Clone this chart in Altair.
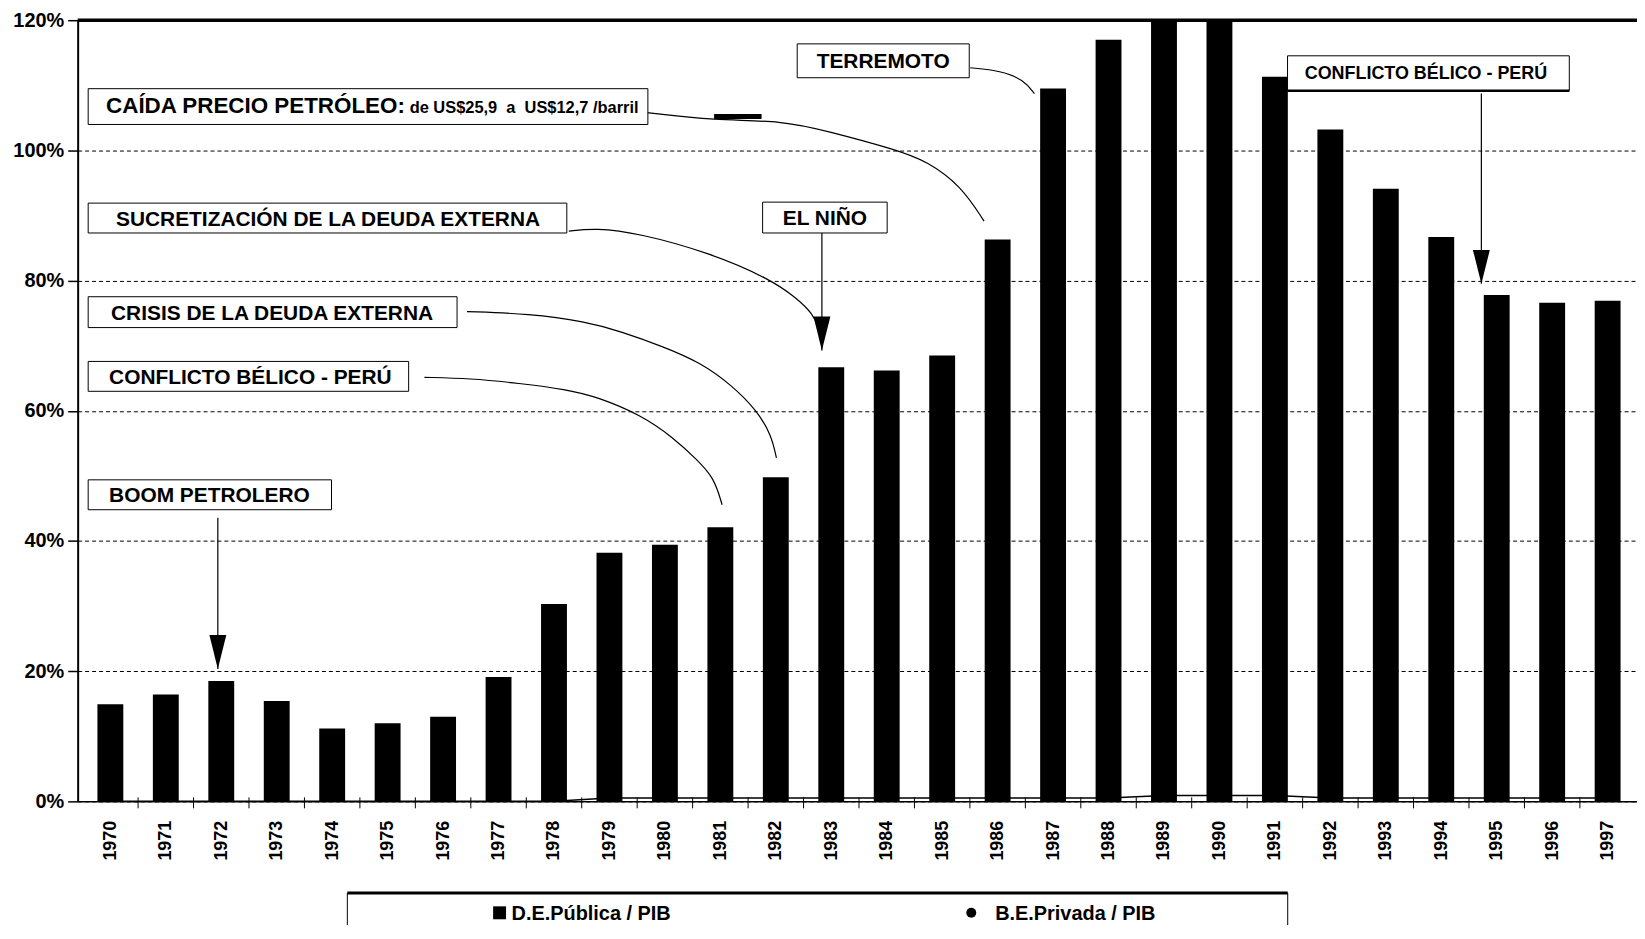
import altair as alt
import pandas as pd

# ---------------- data ----------------
years = list(range(1970, 1998))
de_publica = [14.9, 16.4, 18.5, 15.4, 11.2, 12.0, 13.0, 19.1, 30.3, 38.2,
              39.4, 42.1, 49.8, 66.7, 66.2, 68.5, 86.3, 109.5, 117.0, 125.0,
              125.0, 111.3, 103.2, 94.1, 86.7, 77.8, 76.6, 76.9]
be_privada = [0, 0, 0, 0, 0, 0, 0, 0, 0, 0.5,
              0.5, 0.5, 0.5, 0.5, 0.5, 0.5, 0.5, 0.5, 0.5, 0.9,
              0.9, 0.9, 0.5, 0.5, 0.5, 0.5, 0.5, 0.5]
y_ticks = [0, 20, 40, 60, 80, 100, 120]
tick_bounds = [y + 0.5 for y in years[:-1]]
series_names = ["D.E.Pública / PIB", "B.E.Privada / PIB"]

# ---------------- annotations (data units: year, %) ----------------
box_x0 = [1969.60, 1982.386, 1991.228, 1969.60, 1981.762, 1969.60, 1969.60, 1969.60]
box_x1 = [1979.693, 1985.488, 1996.309, 1978.231, 1984.008, 1976.252, 1975.379, 1973.988]
box_y0 = [103.98, 111.16, 109.17, 87.31, 87.31, 72.78, 62.99, 44.80]
box_y1 = [109.48, 116.36, 114.53, 91.90, 92.05, 77.52, 67.58, 49.39]

big_labels = ["SUCRETIZACIÓN DE LA DEUDA EXTERNA",
              "CRISIS DE LA DEUDA EXTERNA", "CONFLICTO BÉLICO - PERÚ", "BOOM PETROLERO"]
big_x = [1970.102, 1970.012, 1969.977, 1969.977]
big_y = [88.38, 74.01, 64.14, 45.95]

caida_label = ["CAÍDA PRECIO PETRÓLEO:"]
caida_x = [1969.923]
caida_y = [105.81]

center_labels = ["TERREMOTO", "EL NIÑO"]
center_x = [1983.936, 1982.885]
center_y = [112.61, 88.61]

small_label = ["de US$25,9\u00a0\u00a0a\u00a0\u00a0US$12,7 /barril"]
small_x = [1975.397]
small_y = [105.81]

right_label = ["CONFLICTO BÉLICO - PERÚ"]
right_x = [1993.724]
right_y = [110.98]

curve_caida_x = [1979.675, 1980.887, 1982.118, 1982.956, 1984.150, 1984.739, 1985.345, 1985.755]
curve_caida_y = [105.81, 104.59, 104.59, 102.91, 100.15, 98.32, 94.50, 89.14]
curve_terr_x = [1985.505, 1986.058, 1986.468, 1986.664]
curve_terr_y = [112.69, 112.23, 110.86, 108.72]
curve_sucre_x = [1978.267, 1978.749, 1979.515, 1980.817, 1981.887, 1982.368, 1982.671, 1982.796]
curve_sucre_y = [87.61, 88.07, 87.31, 84.25, 80.28, 77.37, 74.92, 72.32]
curve_crisis_x = [1976.431, 1977.554, 1978.570, 1979.212, 1979.960, 1980.638, 1981.208, 1981.654, 1981.921, 1982.011]
curve_crisis_y = [75.23, 74.92, 73.70, 72.17, 69.88, 67.43, 63.91, 60.09, 56.27, 52.75]
curve_confl_x = [1975.664, 1976.484, 1977.376, 1978.214, 1978.802, 1979.569, 1980.139, 1980.585, 1980.888, 1981.031]
curve_confl_y = [65.14, 64.98, 64.22, 63.30, 62.08, 59.33, 55.96, 52.45, 49.69, 45.57]

arrow_x = [1994.723, 1982.831, 1971.938]
arrow_top = [108.72, 87.31, 43.58]
arrow_tip = [79.51, 69.27, 20.34]

# ---------------- layout ----------------
W, H = 1567, 785
FONT = "Liberation Sans"
xs = alt.Scale(domain=[1969.5, 1997.44], nice=False, zero=False)
ys = alt.Scale(domain=[0, 120], nice=False, zero=False)

df = pd.DataFrame({"year": years, "publica": de_publica, "privada": be_privada})


def X(field):
    return alt.X(field, type="quantitative", scale=xs, title=None)


def Y(field):
    return alt.Y(field, type="quantitative", scale=ys, title=None)


bars = alt.Chart(df).mark_bar(color="black", size=26, clip=True).encode(
    x=alt.X("year:Q", scale=xs, title=None,
            axis=alt.Axis(values=years, format="d", labelAngle=-90, ticks=False,
                          tickSize=0, labelPadding=19, labelFontSize=18,
                          labelFontWeight="bold", labelFont=FONT, labelColor="black",
                          domainColor="black", domainWidth=1.5, grid=False,
                          labelOverlap=False, labelFlush=False)),
    y=alt.Y("publica:Q", scale=ys, title=None,
            axis=alt.Axis(values=y_ticks, labelExpr="datum.value + '%'",
                          labelFontSize=20, labelFontWeight="bold", labelFont=FONT,
                          labelColor="black", labelPadding=4, tickSize=10,
                          tickColor="black", tickWidth=1.5, domainColor="black",
                          domainWidth=2, grid=True, gridColor="black",
                          gridDash=[4, 3], gridWidth=1, gridOpacity=1)),
)

privada = alt.Chart(df).mark_line(color="black", strokeWidth=1.5).encode(
    x=X("year"), y=Y("privada"))

ticks = alt.Chart(pd.DataFrame({"b": tick_bounds})).mark_rule(
    color="black", strokeWidth=1).encode(
    x=X("b"), y=alt.value(H - 4), y2=alt.value(H + 7))

topline = alt.Chart(pd.DataFrame({"v": [120]})).mark_rule(
    color="black", strokeWidth=3.5).encode(
    y=Y("v"), x=alt.value(0), x2=alt.value(W))

# curves
rows = []
for cid, cx, cy in [("caida", curve_caida_x, curve_caida_y),
                    ("terr", curve_terr_x, curve_terr_y),
                    ("sucre", curve_sucre_x, curve_sucre_y),
                    ("crisis", curve_crisis_x, curve_crisis_y),
                    ("confl", curve_confl_x, curve_confl_y)]:
    for i, (a, b) in enumerate(zip(cx, cy)):
        rows.append({"id": cid, "seq": i, "cx": a, "cy": b})
curve_df = pd.DataFrame(rows)
curves = alt.Chart(curve_df).mark_line(
    color="black", strokeWidth=1.2, interpolate="basis").encode(
    x=X("cx"), y=Y("cy"), detail="id:N", order="seq:Q")

dash = alt.Chart(pd.DataFrame({"a": [1980.887], "b": [1981.743], "v": [105.2]})).mark_rule(
    color="black", strokeWidth=5).encode(x=X("a"), x2="b:Q", y=Y("v"))

arrow_df = pd.DataFrame({"ax": arrow_x, "top": arrow_top, "tip": arrow_tip})
shafts = alt.Chart(arrow_df).mark_rule(color="black", strokeWidth=1.2).encode(
    x=X("ax"), y=Y("top"), y2="tip:Q")
heads = alt.Chart(arrow_df).mark_point(
    shape="M-1,-4L1,-4L0,0Z", filled=True, size=289, color="black", opacity=1).encode(
    x=X("ax"), y=Y("tip"))

box_df = pd.DataFrame({"x0": box_x0, "x1": box_x1, "y0": box_y0, "y1": box_y1})
boxes = alt.Chart(box_df).mark_rect(fill="white", stroke="black", strokeWidth=1).encode(
    x=X("x0"), x2="x1:Q", y=Y("y0"), y2="y1:Q")
box_bottom = alt.Chart(box_df.iloc[[2]]).mark_rule(color="black", strokeWidth=2.5).encode(
    x=X("x0"), x2="x1:Q", y=Y("y0"))


def label_layer(texts, tx, ty, size, align):
    return alt.Chart(pd.DataFrame({"t": texts, "tx": tx, "ty": ty})).mark_text(
        align=align, baseline="alphabetic", fontSize=size, fontWeight="bold",
        font=FONT, color="black").encode(x=X("tx"), y=Y("ty"), text="t:N")


txt_big = label_layer(big_labels, big_x, big_y, 21, "left")
txt_caida = label_layer(caida_label, caida_x, caida_y, 22.5, "left")
txt_center = label_layer(center_labels, center_x, center_y, 21, "center")
txt_small = label_layer(small_label, small_x, small_y, 16.5, "left")
txt_right = label_layer(right_label, right_x, right_y, 18, "center")

# ---------------- legend (drawn below the plot) ----------------
one = pd.DataFrame({"k": [0]})
LT = 877
leg_top = alt.Chart(one).mark_rule(color="black", strokeWidth=3).encode(
    x=alt.value(271), x2=alt.value(1216), y=alt.value(LT))
leg_l = alt.Chart(one).mark_rule(color="black", strokeWidth=1).encode(
    x=alt.value(271), y=alt.value(LT), y2=alt.value(LT + 60))
leg_r = alt.Chart(one).mark_rule(color="black", strokeWidth=1).encode(
    x=alt.value(1216), y=alt.value(LT), y2=alt.value(LT + 60))
leg_sq = alt.Chart(one).mark_point(shape="square", filled=True, size=169, color="black",
                                   opacity=1).encode(x=alt.value(424), y=alt.value(LT + 20))
leg_ci = alt.Chart(one).mark_point(shape="circle", filled=True, size=100, color="black",
                                   opacity=1).encode(x=alt.value(898), y=alt.value(LT + 20))
leg_t1 = alt.Chart(one).mark_text(text=series_names[0], align="left", baseline="alphabetic",
                                  fontSize=20, fontWeight="bold", font=FONT, color="black").encode(
    x=alt.value(436), y=alt.value(LT + 27))
leg_t2 = alt.Chart(one).mark_text(text=series_names[1], align="left", baseline="alphabetic",
                                  fontSize=20, fontWeight="bold", font=FONT, color="black").encode(
    x=alt.value(922), y=alt.value(LT + 27))

chart = alt.layer(
    bars, privada, ticks, topline, curves, dash, shafts, heads, boxes, box_bottom,
    txt_big, txt_caida, txt_center, txt_small, txt_right,
    leg_top, leg_l, leg_r, leg_sq, leg_ci, leg_t1, leg_t2,
).properties(
    width=W, height=H,
    padding={"left": 70, "top": 10, "right": 0, "bottom": 122},
    autosize=alt.AutoSizeParams(type="none"),
    background="white",
).configure_view(stroke=None)

chart.save("out.html", embed_options={"renderer": "svg", "actions": False})
